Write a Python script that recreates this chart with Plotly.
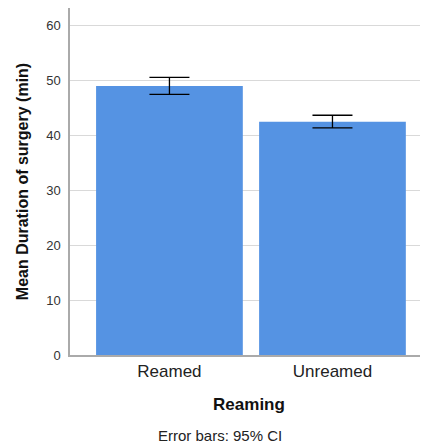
import plotly.graph_objects as go

categories = ["Reamed", "Unreamed"]
means = [48.9, 42.4]
ci_upper = [50.5, 43.6]
ci_lower = [47.4, 41.3]
y_ticks = [0, 10, 20, 30, 40, 50, 60]

err_plus = [u - m for u, m in zip(ci_upper, means)]
err_minus = [m - l for m, l in zip(means, ci_lower)]

FONT = "Liberation Sans, Arial, sans-serif"

fig = go.Figure(go.Bar(
    x=categories, y=means,
    marker=dict(color="#5593E3", line=dict(width=0)),
    error_y=dict(type="data", symmetric=False, array=err_plus, arrayminus=err_minus,
                 color="black", thickness=1.3, width=20),
))

fig.update_layout(
    width=420, height=437,
    margin=dict(l=62, r=0, t=0, b=90),
    plot_bgcolor="white", paper_bgcolor="white",
    bargap=0.1,
    showlegend=False,
    font=dict(family=FONT, color="#222"),
    xaxis=dict(
        range=[-0.61, 1.586],
        showline=True, linecolor="#aaaaaa", linewidth=1.5,
        ticks="", tickfont=dict(family=FONT, size=17, color="#222"),
        title=dict(text="<b>Reaming</b>", font=dict(family=FONT, size=17, color="#111"), standoff=18),
    ),
    yaxis=dict(
        range=[0, 63.1], tickvals=y_ticks,
        showline=True, linecolor="#aaaaaa", linewidth=1.5,
        showgrid=True, gridcolor="#d9d9d9", gridwidth=1,
        zeroline=False,
        ticks="", ticklabelstandoff=5,
        tickfont=dict(family=FONT, size=13, color="#333"),
        title=dict(text="<b>Mean Duration of surgery (min)</b>", font=dict(family=FONT, size=16, color="#111"), standoff=14),
    ),
    annotations=[dict(
        text="Error bars: 95% CI", xref="paper", yref="paper",
        x=(212 - 62) / 358, y=-(428 - 347) / 347, xanchor="center", yanchor="middle",
        showarrow=False, font=dict(family=FONT, size=15, color="#222"),
    )],
)

fig.write_html("out.html")
